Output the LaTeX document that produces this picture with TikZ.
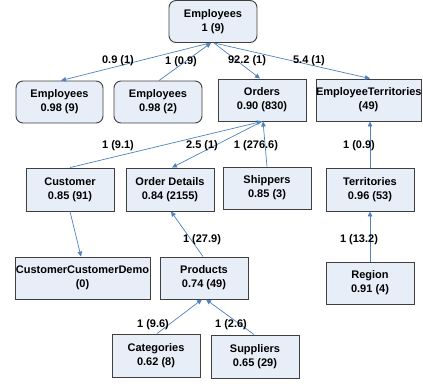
\documentclass[tikz,border=0pt]{standalone}
\usepackage{fontspec}
\setmainfont{Liberation Sans}
\usetikzlibrary{arrows.meta}
\definecolor{boxfill}{HTML}{E8EEF7}
\definecolor{boxline}{HTML}{3F3F3F}
\definecolor{edgeblue}{HTML}{4F81BD}
\begin{document}
\begin{tikzpicture}[x=1pt,y=-1pt,
  tbl/.style={draw=boxline,fill=boxfill,line width=0.9pt,minimum width=88pt,minimum height=42pt,inner sep=0pt,
    align=center,font=\fontsize{11}{14}\selectfont\bfseries},
  rtbl/.style={tbl,rounded corners=7pt},
  lbl/.style={inner sep=0pt,font=\fontsize{11}{12}\selectfont\bfseries},
  link/.style={draw=edgeblue,line width=0.7pt,-{Triangle[length=5pt,width=4.5pt]}}]
\useasboundingbox (0,0) rectangle (423,383);
% nodes
\node[rtbl] (top) at (213,21.5) {Employees\\1 (9)};
\node[rtbl,minimum width=87pt] (emp1) at (59.5,102) {Employees\\0.98 (9)};
\node[rtbl] (emp2) at (158,102) {Employees\\0.98 (2)};
\node[tbl] (orders) at (262,100) {Orders\\0.90 (830)};
\node[tbl,minimum width=105pt,text width=105pt] (et) at (368.5,100) {EmployeeTerritories\\(49)};
\node[tbl,minimum height=43pt] (cust) at (70,189.5) {Customer\\0.85 (91)};
\node[tbl,minimum height=43pt] (od) at (170,189.5) {Order Details\\0.84 (2155)};
\node[tbl] (ship) at (267,188) {Shippers\\0.85 (3)};
\node[tbl,minimum height=43pt] (terr) at (370,189.5) {Territories\\0.96 (53)};
\node[tbl,minimum width=135pt] (ccd) at (82.5,278) {CustomerCustomerDemo\\(0)};
\node[tbl] (prod) at (204,278) {Products\\0.74 (49)};
\node[tbl] (reg) at (370,283) {Region\\0.91 (4)};
\node[tbl,minimum height=43pt] (cat) at (156,355.5) {Categories\\0.62 (8)};
\node[tbl,minimum height=43pt] (sup) at (255,356.5) {Suppliers\\0.65 (29)};
% connectors
\draw[link] ([xshift=-3pt]top.south) -- ([xshift=1.5pt]emp1.north);
\draw[link] ([xshift=1pt]emp2.north) -- ([xshift=-2pt]top.south);
\draw[link] ([xshift=1pt]top.south) -- ([xshift=-2pt]orders.north);
\draw[link] ([xshift=1pt]top.south) -- ([xshift=1.5pt]et.north);
\draw[link] (cust.north) -- (orders.south);
\draw[link] (orders.south) -- ([xshift=2pt]od.north);
\draw[link] (ship.north) -- ([xshift=1pt]orders.south);
\draw[link] (terr.north) -- ([xshift=1.5pt]et.south);
\draw[link] (cust.south) -- ([xshift=-1.5pt]ccd.north);
\draw[link] ([xshift=-1pt]prod.north) -- ([xshift=1pt]od.south);
\draw[link] (reg.north) -- (terr.south);
\draw[link] ([xshift=1pt]cat.north) -- ([xshift=-2pt]prod.south);
\draw[link] ([xshift=-1pt]sup.north) -- ([xshift=2pt]prod.south);
% labels
\node[lbl] (l1) at (118,61) {0.9 (1)};
\node[lbl] (l2) at (181,62) {1 (0.9)};
\node[lbl] (l3) at (247,61) {92.2 (1)};
\node[lbl] (l4) at (309,61) {5.4 (1)};
\node[lbl] (l5) at (118,146) {1 (9.1)};
\node[lbl] (l6) at (202,146) {2.5 (1)};
\node[lbl] (l7) at (256,146) {1 (276.6)};
\node[lbl] (l8) at (359,146) {1 (0.9)};
\node[lbl] (l9) at (202,240) {1 (27.9)};
\node[lbl] (l10) at (359,240) {1 (13.2)};
\node[lbl] (l11) at (153,325) {1 (9.6)};
\node[lbl] (l12) at (231,325) {1 (2.6)};
\end{tikzpicture}
\end{document}
